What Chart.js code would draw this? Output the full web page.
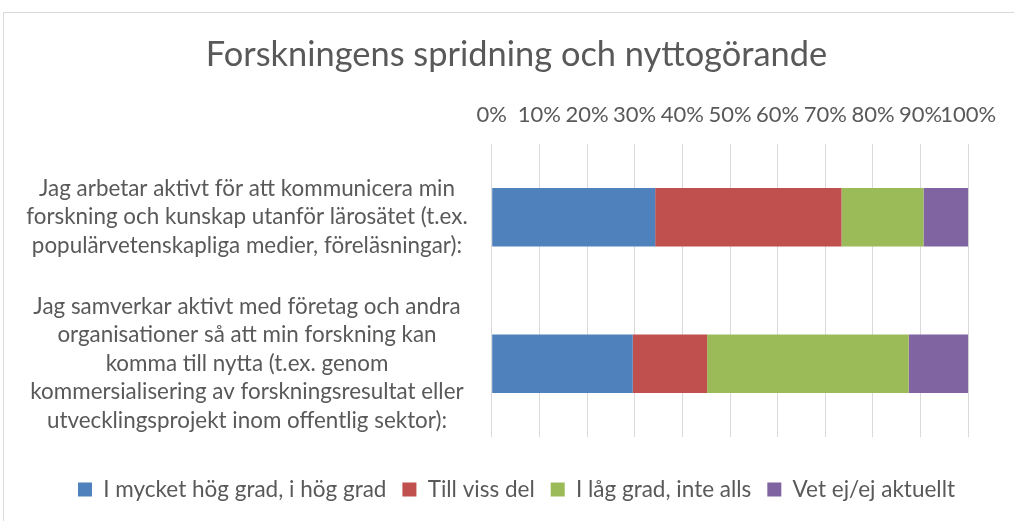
<!DOCTYPE html>
<html>
<head>
<meta charset="utf-8">
<script src="https://cdn.jsdelivr.net/npm/chart.js@4.4.1/dist/chart.umd.min.js"></script>
<style>
html,body{margin:0;padding:0;background:#fff;overflow:hidden;width:1014px;height:521px;}
#frame{position:absolute;left:3px;top:12px;width:1100px;height:600px;border:1px solid #d9d9d9;box-sizing:border-box;}
#wrap{position:absolute;left:0;top:0;width:1014px;height:521px;}
</style>
</head>
<body>
<div id="frame"></div>
<div id="wrap"><canvas id="c" width="1014" height="521"></canvas></div>
<script>
const chartTitle = 'Forskningens spridning och nyttogörande';
const categories = [
  ['Jag arbetar aktivt för att kommunicera min', 'forskning och kunskap utanför lärosätet (t.ex.', 'populärvetenskapliga medier, föreläsningar):'],
  ['Jag samverkar aktivt med företag och andra', 'organisationer så att min forskning kan', 'komma till nytta (t.ex. genom', 'kommersialisering av forskningsresultat eller', 'utvecklingsprojekt inom offentlig sektor):']
];
const seriesNames = ['I mycket hög grad, i hög grad', 'Till viss del', 'I låg grad, inte alls', 'Vet ej/ej aktuellt'];
const highDegree = [34.3, 29.6];
const someDegree = [39.1, 15.6];
const lowDegree = [17.2, 42.3];
const dontKnow = [9.4, 12.5];
const tickLabels = ['0%', '10%', '20%', '30%', '40%', '50%', '60%', '70%', '80%', '90%', '100%'];
const seriesColors = ['#4F81BD', '#C0504D', '#9BBB59', '#8064A2'];

const FONT = 'Lato';
const TXT = '#595959';
const LABEL_SIZE = 22.4;

// measure widest category line to center the labels
const mctx = document.createElement('canvas').getContext('2d');
mctx.font = LABEL_SIZE + 'px ' + FONT;
let widest = 0;
categories.forEach(c => c.forEach(l => { widest = Math.max(widest, mctx.measureText(l).width); }));
const yPad = 244.7 - widest / 2;

const seriesValues = [highDegree, someDegree, lowDegree, dontKnow];
const datasets = seriesNames.map((n, i) => ({
  label: n,
  data: seriesValues[i],
  backgroundColor: seriesColors[i],
  borderWidth: 0,
  categoryPercentage: 1,
  barPercentage: 0.4,
  xAxisID: 'x',
  yAxisID: 'y'
}));

new Chart(document.getElementById('c'), {
  type: 'bar',
  data: { labels: categories, datasets },
  options: {
    indexAxis: 'y',
    responsive: false,
    animation: false,
    devicePixelRatio: 1,
    layout: { padding: { left: 19, right: 0, top: 0, bottom: 10.25 } },
    plugins: {
      title: {
        display: true, text: chartTitle, color: TXT,
        font: { family: FONT, size: 34.4, weight: 'normal', lineHeight: 1.2 },
        padding: { top: 34.4, bottom: 10 }
      },
      legend: {
        position: 'bottom',
        labels: { color: TXT, font: { family: FONT, size: 22.5 }, boxWidth: 14, boxHeight: 14, padding: 16 },
        title: { display: true, text: ' ', font: { family: FONT, size: 8, lineHeight: '15.25px' }, padding: { top: 5, bottom: 5 } }
      },
      tooltip: { enabled: false }
    },
    scales: {
      x: {
        position: 'top', stacked: true, min: 0, max: 100,
        grid: { color: '#d9d9d9', lineWidth: 1, drawTicks: false },
        border: { display: false },
        ticks: {
          stepSize: 10, autoSkip: false, maxRotation: 0, minRotation: 0, padding: 15.8,
          color: TXT, font: { family: FONT, size: 22, lineHeight: 1.2 },
          callback: (v, i) => tickLabels[i]
        },
        afterFit: s => { s.height = 58.3; }
      },
      y: {
        stacked: true,
        grid: { display: false, drawTicks: false },
        border: { display: false },
        ticks: { crossAlign: 'center', padding: yPad, color: TXT, font: { family: FONT, size: LABEL_SIZE, lineHeight: '28.5px' }, autoSkip: false },
        afterFit: s => { s.width = 472.7; }
      },
      yR: {
        type: 'linear', position: 'right', display: true,
        grid: { display: false, drawTicks: false },
        border: { display: false },
        ticks: { display: false },
        afterFit: s => { s.width = 45.7; }
      }
    }
  }
});
</script>
</body>
</html>
